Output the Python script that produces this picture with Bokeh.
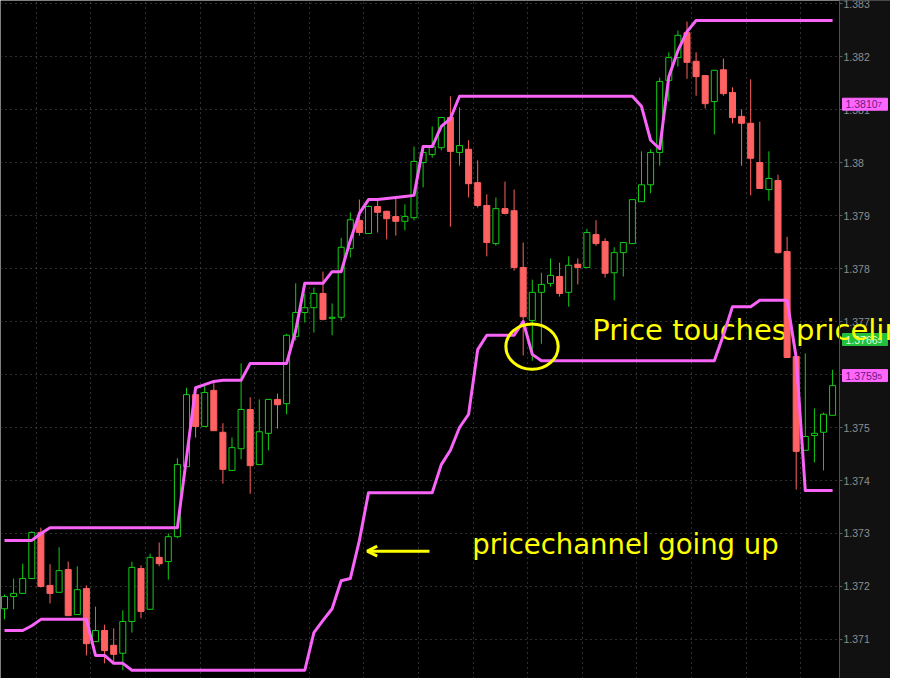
from bokeh.plotting import figure
from bokeh.models import Range1d, FixedTicker, Arrow, OpenHead, ColumnDataSource, Span
from bokeh.core.properties import value
from bokeh.embed import file_html
from bokeh.resources import INLINE

# ---------------- data (5-minute candles, price channel) ----------------
bar_index = list(range(92))

opens = [1.37158, 1.37181, 1.37187, 1.37215, 1.37302, 1.37202, 1.37189, 1.37232, 1.37147, 1.37196,
         1.37096, 1.37117, 1.37089, 1.37074, 1.37134, 1.37234, 1.37157, 1.37255, 1.37247, 1.37294,
         1.37426, 1.37562, 1.37502, 1.37570, 1.37491, 1.37419, 1.37460, 1.37534, 1.37430, 1.37489,
         1.37553, 1.37545, 1.37672, 1.37717, 1.37726, 1.37753, 1.37706, 1.37708, 1.37838, 1.37891,
         1.37866, 1.37917, 1.37908, 1.37898, 1.37889, 1.37896, 1.38000, 1.38015, 1.38028, 1.38085,
         1.38019, 1.38025, 1.37962, 1.37919, 1.37847, 1.37913, 1.37909, 1.37802, 1.37702, 1.37755,
         1.37772, 1.37785, 1.37755, 1.37808, 1.37802, 1.37864, 1.37851, 1.37792, 1.37830, 1.37847,
         1.37926, 1.37958, 1.38019, 1.38155, 1.38198, 1.38245, 1.38191, 1.38164, 1.38115, 1.38175,
         1.38132, 1.38087, 1.38074, 1.38000, 1.37949, 1.37966, 1.37832, 1.37634, 1.37457, 1.37485,
         1.37491, 1.37523]

closes = [1.37181, 1.37187, 1.37215, 1.37302, 1.37200, 1.37187, 1.37230, 1.37145, 1.37194, 1.37092,
          1.37117, 1.37079, 1.37072, 1.37134, 1.37236, 1.37153, 1.37255, 1.37243, 1.37294, 1.37430,
          1.37562, 1.37502, 1.37566, 1.37494, 1.37421, 1.37462, 1.37534, 1.37428, 1.37492, 1.37553,
          1.37543, 1.37674, 1.37717, 1.37726, 1.37753, 1.37704, 1.37708, 1.37840, 1.37892, 1.37868,
          1.37917, 1.37906, 1.37894, 1.37889, 1.37898, 1.38002, 1.38019, 1.38030, 1.38085, 1.38021,
          1.38032, 1.37960, 1.37919, 1.37849, 1.37913, 1.37904, 1.37802, 1.37709, 1.37755, 1.37770,
          1.37787, 1.37753, 1.37806, 1.37802, 1.37868, 1.37847, 1.37791, 1.37830, 1.37849, 1.37930,
          1.37958, 1.38019, 1.38153, 1.38198, 1.38240, 1.38189, 1.38162, 1.38111, 1.38174, 1.38130,
          1.38085, 1.38074, 1.38008, 1.37951, 1.37970, 1.37830, 1.37632, 1.37455, 1.37483, 1.37489,
          1.37525, 1.37579]

highs = [1.37185, 1.37215, 1.37243, 1.37304, 1.37311, 1.37242, 1.37274, 1.37247, 1.37238, 1.37202,
         1.37162, 1.37128, 1.37121, 1.37155, 1.37247, 1.37240, 1.37262, 1.37283, 1.37300, 1.37442,
         1.37575, 1.37570, 1.37581, 1.37587, 1.37508, 1.37481, 1.37621, 1.37557, 1.37553, 1.37553,
         1.37564, 1.37677, 1.37772, 1.37753, 1.37764, 1.37794, 1.37734, 1.37858, 1.37906, 1.37930,
         1.37919, 1.37928, 1.37909, 1.37936, 1.37921, 1.38030, 1.38026, 1.38068, 1.38085, 1.38125,
         1.38104, 1.38042, 1.38004, 1.37940, 1.37934, 1.37964, 1.37949, 1.37849, 1.37779, 1.37792,
         1.37819, 1.37811, 1.37823, 1.37819, 1.37875, 1.37891, 1.37857, 1.37840, 1.37849, 1.37930,
         1.38021, 1.38025, 1.38160, 1.38208, 1.38249, 1.38266, 1.38208, 1.38164, 1.38174, 1.38196,
         1.38142, 1.38100, 1.38157, 1.38077, 1.38021, 1.37977, 1.37860, 1.37634, 1.37640, 1.37536,
         1.37528, 1.37609]

lows = [1.37138, 1.37157, 1.37187, 1.37215, 1.37198, 1.37168, 1.37189, 1.37145, 1.37147, 1.37070,
        1.37096, 1.37055, 1.37057, 1.37042, 1.37113, 1.37140, 1.37157, 1.37238, 1.37213, 1.37291,
        1.37426, 1.37481, 1.37502, 1.37494, 1.37394, 1.37419, 1.37440, 1.37375, 1.37430, 1.37457,
        1.37498, 1.37525, 1.37664, 1.37698, 1.37679, 1.37702, 1.37674, 1.37702, 1.37821, 1.37862,
        1.37866, 1.37868, 1.37855, 1.37862, 1.37872, 1.37891, 1.37953, 1.38009, 1.38023, 1.37879,
        1.37994, 1.37934, 1.37915, 1.37823, 1.37843, 1.37902, 1.37796, 1.37636, 1.37626, 1.37658,
        1.37766, 1.37747, 1.37728, 1.37770, 1.37802, 1.37843, 1.37783, 1.37740, 1.37785, 1.37847,
        1.37926, 1.37942, 1.37994, 1.38115, 1.38181, 1.38158, 1.38126, 1.38102, 1.38053, 1.38126,
        1.38074, 1.37994, 1.37938, 1.37951, 1.37928, 1.37828, 1.37632, 1.37383, 1.37457, 1.37434,
        1.37419, 1.37523]

channel_upper = [1.37287, 1.37287, 1.37287, 1.37287, 1.37300, 1.37311, 1.37311, 1.37311, 1.37311, 1.37311,
                 1.37311, 1.37311, 1.37311, 1.37311, 1.37311, 1.37311, 1.37311, 1.37311, 1.37311, 1.37311,
                 1.37443, 1.37575, 1.37581, 1.37587, 1.37589, 1.37589, 1.37589, 1.37621, 1.37621, 1.37621,
                 1.37621, 1.37621, 1.37683, 1.37772, 1.37772, 1.37772, 1.37794, 1.37794, 1.37853, 1.37904,
                 1.37930, 1.37930, 1.37932, 1.37934, 1.37936, 1.37938, 1.38030, 1.38030, 1.38068, 1.38083,
                 1.38125, 1.38125, 1.38125, 1.38125, 1.38125, 1.38125, 1.38125, 1.38125, 1.38125, 1.38125,
                 1.38125, 1.38125, 1.38125, 1.38125, 1.38125, 1.38125, 1.38125, 1.38125, 1.38125, 1.38125,
                 1.38106, 1.38042, 1.38026, 1.38162, 1.38211, 1.38247, 1.38268, 1.38268, 1.38268, 1.38268,
                 1.38268, 1.38268, 1.38268, 1.38268, 1.38268, 1.38268, 1.38268, 1.38268, 1.38268, 1.38268,
                 1.38268, 1.38268]

channel_lower = [1.37117, 1.37117, 1.37117, 1.37126, 1.37138, 1.37138, 1.37138, 1.37138, 1.37138, 1.37138,
                 1.37070, 1.37070, 1.37055, 1.37055, 1.37042, 1.37042, 1.37042, 1.37042, 1.37042, 1.37042,
                 1.37042, 1.37042, 1.37042, 1.37042, 1.37042, 1.37042, 1.37042, 1.37042, 1.37042, 1.37042,
                 1.37042, 1.37042, 1.37042, 1.37042, 1.37113, 1.37136, 1.37158, 1.37211, 1.37215, 1.37287,
                 1.37377, 1.37377, 1.37377, 1.37377, 1.37377, 1.37377, 1.37377, 1.37377, 1.37430, 1.37457,
                 1.37500, 1.37525, 1.37647, 1.37674, 1.37674, 1.37674, 1.37674, 1.37700, 1.37638, 1.37626,
                 1.37626, 1.37626, 1.37626, 1.37626, 1.37626, 1.37626, 1.37626, 1.37626, 1.37626, 1.37626,
                 1.37626, 1.37626, 1.37626, 1.37626, 1.37626, 1.37626, 1.37626, 1.37626, 1.37626, 1.37674,
                 1.37728, 1.37728, 1.37728, 1.37740, 1.37740, 1.37740, 1.37740, 1.37632, 1.37381, 1.37381,
                 1.37381, 1.37381]

price_ticks = [1.370, 1.371, 1.372, 1.373, 1.374, 1.375, 1.376, 1.377, 1.378, 1.379, 1.380, 1.381, 1.382, 1.383]
time_grid = [3.5, 9.5, 15.5, 21.5, 27.5, 33.5, 39.5, 45.5, 51.5, 57.5, 63.5, 69.5, 75.5, 81.5, 87.5]

# price bubbles on the price scale
bubble_text = ["1.3810", "1.3766", "1.3759"]
bubble_sub = ["7", "5", "5"]
bubble_price = [1.38110, 1.37666, 1.37598]
bubble_fill = ["#ff66ff", "#22c03c", "#ff66ff"]
bubble_color = ["#6a1a80", "#d8ffd8", "#6a1a80"]

# ---------------- layout constants ----------------
GREEN = "#14cc14"
RED = "#ff6262"
PINK = "#f864f8"
YELLOW = "#ffff00"
SCALE_X = 91.758          # left edge of the price-scale strip (bar units)
LABEL_X = 92.20
BOX_L, BOX_R = 92.09, 97.03
BOX_HALF = 0.000113
BUBBLE_X = 92.42
SUB_X = 95.93

p = figure(width=890, height=678, title=None,
           x_range=Range1d(-0.4396, 97.363), y_range=Range1d(1.370264, 1.383057),
           output_backend="svg", toolbar_location=None,
           x_axis_location=None, y_axis_location=None,
           min_border_left=0, min_border_top=0, min_border_bottom=0, min_border_right=0,
           background_fill_color="#000000", border_fill_color="#000000",
           outline_line_color=None)

# dotted grid
p.ygrid.ticker = FixedTicker(ticks=price_ticks)
p.xgrid.ticker = FixedTicker(ticks=time_grid)
for g in (p.xgrid[0], p.ygrid[0]):
    g.grid_line_color = "#5c5c5c"
    g.grid_line_dash = "1 4"
    g.grid_line_width = 1

# price scale strip on the right
p.quad(left=[SCALE_X], right=[100.0], bottom=[1.36], top=[1.39],
       fill_color="#111111", line_color=None)
p.text(x=[LABEL_X] * len(price_ticks), y=price_ticks,
       text=[str(round(t, 3)) for t in price_ticks],
       text_color="#8e8e8e", text_font=value("Liberation Sans"), text_font_size="10.5px",
       text_baseline="middle", text_align="left")
p.segment(x0=[SCALE_X] * len(price_ticks), y0=price_ticks,
          x1=[SCALE_X + 0.33] * len(price_ticks), y1=price_ticks,
          line_color="#606060", line_width=1)
p.add_layout(Span(location=SCALE_X, dimension="height", line_color="#505050", line_width=1))

# bubbles
p.quad(left=[BOX_L] * 3, right=[BOX_R] * 3,
       bottom=[b - BOX_HALF for b in bubble_price], top=[b + BOX_HALF for b in bubble_price],
       fill_color=bubble_fill, line_color=bubble_fill, line_width=1, line_join="round")
p.text(x=[BUBBLE_X] * 3, y=bubble_price, text=bubble_text, text_color=bubble_color,
       text_font=value("Liberation Sans"), text_font_size="10.5px",
       text_baseline="middle", text_align="left")
p.text(x=[SUB_X] * 3, y=bubble_price, text=bubble_sub, text_color=bubble_color,
       text_font=value("Liberation Sans"), text_font_size="8px",
       text_baseline="top", text_align="left", y_offset=-2)

# annotation text drawn below the price bars
p.text(x=[64.58], y=[1.376840], text=["Price touches priceline"], text_color=YELLOW,
       text_font=value("DejaVu Sans"), text_font_size="29px", text_baseline="alphabetic")

# candles
is_up = [c >= o for o, c in zip(opens, closes)]
src = ColumnDataSource(dict(
    x=bar_index, high=highs, low=lows,
    top=[max(o, c) for o, c in zip(opens, closes)],
    bottom=[min(o, c) for o, c in zip(opens, closes)],
    color=[GREEN if u else RED for u in is_up],
    fill=["#000000" if u else RED for u in is_up],
))
p.segment(x0="x", y0="high", x1="x", y1="low", color="color", line_width=1, source=src)
p.vbar(x="x", width=0.66, top="top", bottom="bottom", fill_color="fill", line_color="color",
       line_width=1, source=src)

# price channel
p.line(bar_index, channel_upper, line_color=PINK, line_width=3, line_join="round")
p.line(bar_index, channel_lower, line_color=PINK, line_width=3, line_join="round")

# circle annotation
p.ellipse(x=[57.97], y=[1.376527], width=5.75, height=0.000855,
          fill_alpha=0, line_color=YELLOW, line_width=3)

# arrow + text
p.add_layout(Arrow(x_start=46.70, y_start=1.372666, x_end=39.86, y_end=1.372666,
                   line_color=YELLOW, line_width=3,
                   end=OpenHead(size=10, line_color=YELLOW, line_width=3)))
p.text(x=[51.40], y=[1.372810], text=["pricechannel going up"], text_color=YELLOW,
       text_font=value("DejaVu Sans"), text_font_size="27.5px", text_baseline="alphabetic")

open("out.html", "w").write(file_html(p, INLINE))
